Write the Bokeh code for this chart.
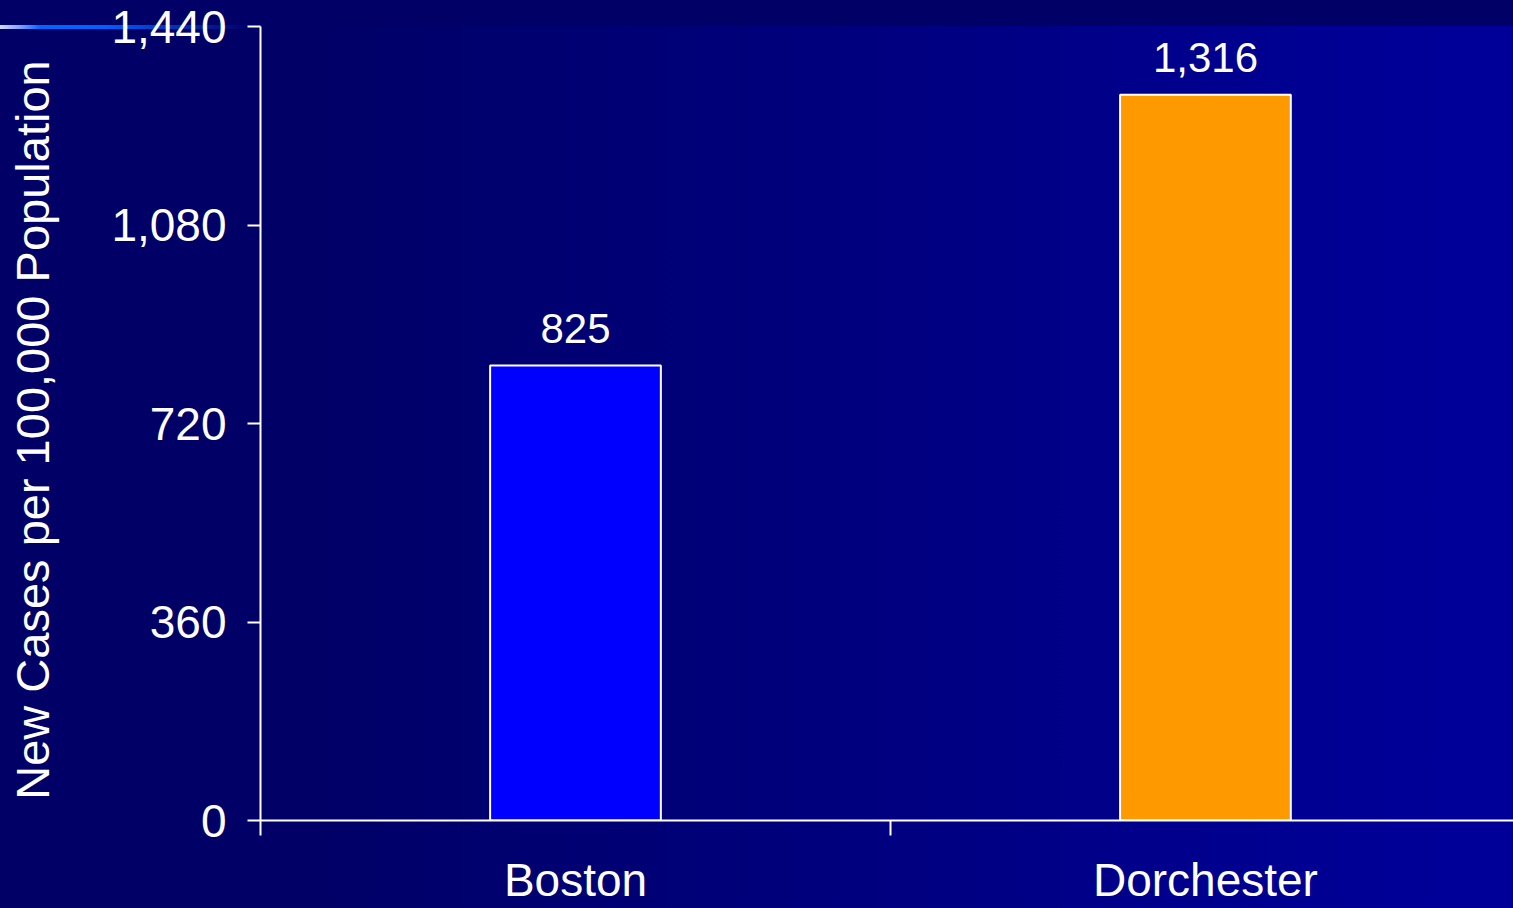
from bokeh.plotting import figure
from bokeh.models import Range1d, FixedTicker, NumeralTickFormatter, ColumnDataSource
from bokeh.core.properties import value
from bokeh.embed import file_html
from bokeh.resources import INLINE

# ---- data ----
categories = ["Boston", "Dorchester"]
new_cases = [825, 1316]
bar_colors = ["#0000FF", "#FF9900"]
value_labels = ["825", "1,316"]
y_ticks = [0, 360, 720, 1080, 1440]
y_label = "New Cases  per 100,000 Population"

FONT = "Liberation Sans"
W, H = 1513, 908

xs = [i + 0.5 for i in range(len(categories))]
src = ColumnDataSource(dict(x=xs, top=new_cases, color=bar_colors, lab=value_labels))

p = figure(width=W, height=H, output_backend="svg", toolbar_location=None,
           x_range=Range1d(0, 1.989), y_range=Range1d(0, 1440),
           min_border_left=260, min_border_top=26, min_border_right=0, min_border_bottom=88)

# transparent figure: the slide-style gradient background is set on the page body
p.background_fill_alpha = 0
p.border_fill_alpha = 0
p.outline_line_color = None

p.vbar(x="x", top="top", bottom=0, width=0.271, fill_color="color",
       line_color="white", line_width=2, source=src)

p.text(x="x", y="top", text="lab", source=src, text_align="center",
       text_baseline="alphabetic", y_offset=-37, text_color="white",
       text_font=value(FONT), text_font_size="42px")

# grid: only top line
p.xgrid.visible = False
p.ygrid.ticker = FixedTicker(ticks=[1440])
p.ygrid.grid_line_color = "white"
p.ygrid.grid_line_width = 2

# y axis
ya = p.yaxis[0]
ya.ticker = FixedTicker(ticks=y_ticks)
ya.formatter = NumeralTickFormatter(format="0,0")
ya.axis_line_color = "white"
ya.axis_line_width = 2
ya.major_tick_line_color = "white"
ya.major_tick_line_width = 2
ya.major_tick_out = 13
ya.major_tick_in = 0
ya.minor_tick_line_color = None
ya.major_label_text_color = "white"
ya.major_label_text_font = FONT
ya.major_label_text_font_size = "46px"
ya.major_label_standoff = 21
ya.axis_label = y_label
ya.axis_label_text_color = "white"
ya.axis_label_text_font = FONT
ya.axis_label_text_font_size = "47px"
ya.axis_label_text_font_style = "normal"
ya.axis_label_standoff = 49

# x axis
xa = p.xaxis[0]
xa.ticker = FixedTicker(ticks=xs, minor_ticks=[0, 1, 2])
xa.major_label_overrides = {x: c for x, c in zip(xs, categories)}
xa.axis_line_color = "white"
xa.axis_line_width = 2
xa.major_tick_line_color = None
xa.major_tick_out = 0
xa.major_tick_in = 0
xa.minor_tick_line_color = "white"
xa.minor_tick_line_width = 2
xa.minor_tick_out = 15
xa.minor_tick_in = 0
xa.major_label_text_color = "white"
xa.major_label_text_font = FONT
xa.major_label_text_font_size = "46px"
xa.major_label_standoff = 18

body_style = (
    "margin:0;"
    "background:"
    "linear-gradient(to right, #D0D8FF 0px, #7FA0FF 20px, #0066FF 40px, #0060FF 105px, "
    "rgba(0,0,102,0) 250px) 0px 25px / 260px 4px no-repeat,"
    "linear-gradient(to bottom, #000066 0px, #000066 26px, rgba(0,0,102,0) 26px) 0 0 / 100% 100% no-repeat,"
    "linear-gradient(to right, #000066 0px, #000066 290px, #000099 1460px, #000099 100%) 0 0 / 100% 100% no-repeat,"
    "#000066;"
)
html = file_html(p, INLINE).replace("<body>", '<body style="%s">' % body_style)
open("out.html", "w").write(html)
